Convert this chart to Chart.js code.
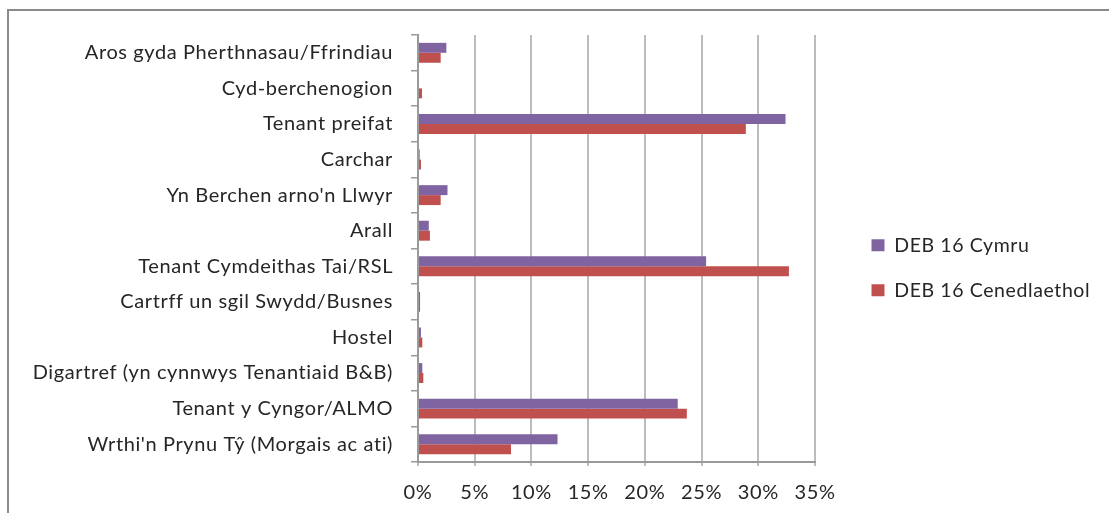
<!DOCTYPE html>
<html>
<head>
<meta charset="utf-8">
<script src="https://cdn.jsdelivr.net/npm/chart.js@4.4.1/dist/chart.umd.min.js"></script>
<style>
  html, body { margin: 0; padding: 0; background: #ffffff; }
  #wrap { position: relative; width: 1109px; height: 513px; }
</style>
</head>
<body>
<div id="wrap"><canvas id="c"></canvas></div>
<script>
const categories = [
  "Aros gyda Pherthnasau/Ffrindiau",
  "Cyd-berchenogion",
  "Tenant preifat",
  "Carchar",
  "Yn Berchen arno'n Llwyr",
  "Arall",
  "Tenant Cymdeithas Tai/RSL",
  "Cartrff un sgil Swydd/Busnes",
  "Hostel",
  "Digartref (yn cynnwys Tenantiaid B&B)",
  "Tenant y Cyngor/ALMO",
  "Wrthi'n Prynu Tŷ (Morgais ac ati)"
];
const seriesNames = ["DEB 16 Cymru", "DEB 16 Cenedlaethol"];
const cymru        = [2.5, 0.0, 32.4, 0.15, 2.6, 0.95, 25.4, 0.18, 0.26, 0.38, 22.9, 12.3];
const cenedlaethol = [2.0, 0.35, 28.9, 0.26, 2.0, 1.05, 32.7, 0.18, 0.38, 0.47, 23.7, 8.2];
const xTickValues = [0, 5, 10, 15, 20, 25, 30, 35];

const FONT = 'Lato';
const TEXT = '#262626';
const GRID = '#bcbcbc';
const AXIS = '#9a9a9a';

function spacing(chart) { try { chart.ctx.letterSpacing = '0.6px'; } catch (e) {} }

const layoutFix = {
  id: 'layoutFix',
  afterInit(chart) { spacing(chart); },
  beforeUpdate(chart) { spacing(chart); },
  beforeLayout(chart) {
    spacing(chart);
    const lg = chart.legend;
    if (lg && !lg._patched) {
      const f = lg.fit;
      lg.fit = function () { f.call(this); this.width = 294; };
      lg._patched = true;
    }
  },
  afterLayout(chart) {
    const lg = chart.legend;
    if (lg) {
      lg.left = 846;
      lg.right = 1109;
      const h = lg.bottom - lg.top;
      lg.top = 210;
      lg.bottom = 210 + h;
    }
  },
  beforeDraw(chart) {
    spacing(chart);
    const ctx = chart.ctx;
    ctx.save();
    ctx.fillStyle = '#ffffff';
    ctx.fillRect(0, 0, chart.width, chart.height);
    ctx.strokeStyle = '#8a8a8a';
    ctx.lineWidth = 2;
    ctx.strokeRect(8, 10, 1300, 700);
    ctx.restore();
  }
};

new Chart(document.getElementById('c'), {
  type: 'bar',
  data: {
    labels: categories,
    datasets: [
      { label: seriesNames[0], data: cymru, backgroundColor: '#8064A2', borderWidth: 0,
        categoryPercentage: 0.56, barPercentage: 1.0 },
      { label: seriesNames[1], data: cenedlaethol, backgroundColor: '#C0504D', borderWidth: 0,
        categoryPercentage: 0.56, barPercentage: 1.0 }
    ]
  },
  options: {
    indexAxis: 'y',
    responsive: true,
    maintainAspectRatio: false,
    animation: false,
    layout: { padding: { top: 35, left: 0, right: 0, bottom: 0 } },
    plugins: {
      tooltip: { enabled: false },
      legend: {
        position: 'right',
        align: 'start',
        labels: {
          font: { family: FONT, size: 19.5 },
          color: TEXT,
          boxWidth: 13,
          boxHeight: 12,
          padding: 25.5
        }
      }
    },
    scales: {
      x: {
        type: 'linear',
        min: 0,
        max: 35,
        afterBuildTicks(scale) { scale.ticks = xTickValues.map(v => ({ value: v })); },
        afterFit(scale) { scale.height = 51; },
        ticks: {
          callback: v => v + '%',
          font: { family: FONT, size: 20 },
          color: TEXT,
          padding: 15,
          maxRotation: 0,
          autoSkip: false
        },
        grid: { color: GRID, tickColor: GRID, tickLength: 4, lineWidth: 2 },
        border: { color: AXIS, width: 2 }
      },
      y: {
        afterFit(scale) { scale.width = 418; },
        ticks: {
          font: { family: FONT, size: 20 },
          color: TEXT,
          padding: 18,
          autoSkip: false
        },
        grid: { drawOnChartArea: false, drawTicks: true, tickLength: 7, color: AXIS, tickColor: AXIS, lineWidth: 1.5 },
        border: { color: AXIS, width: 2 }
      }
    }
  },
  plugins: [layoutFix]
});
</script>
</body>
</html>
